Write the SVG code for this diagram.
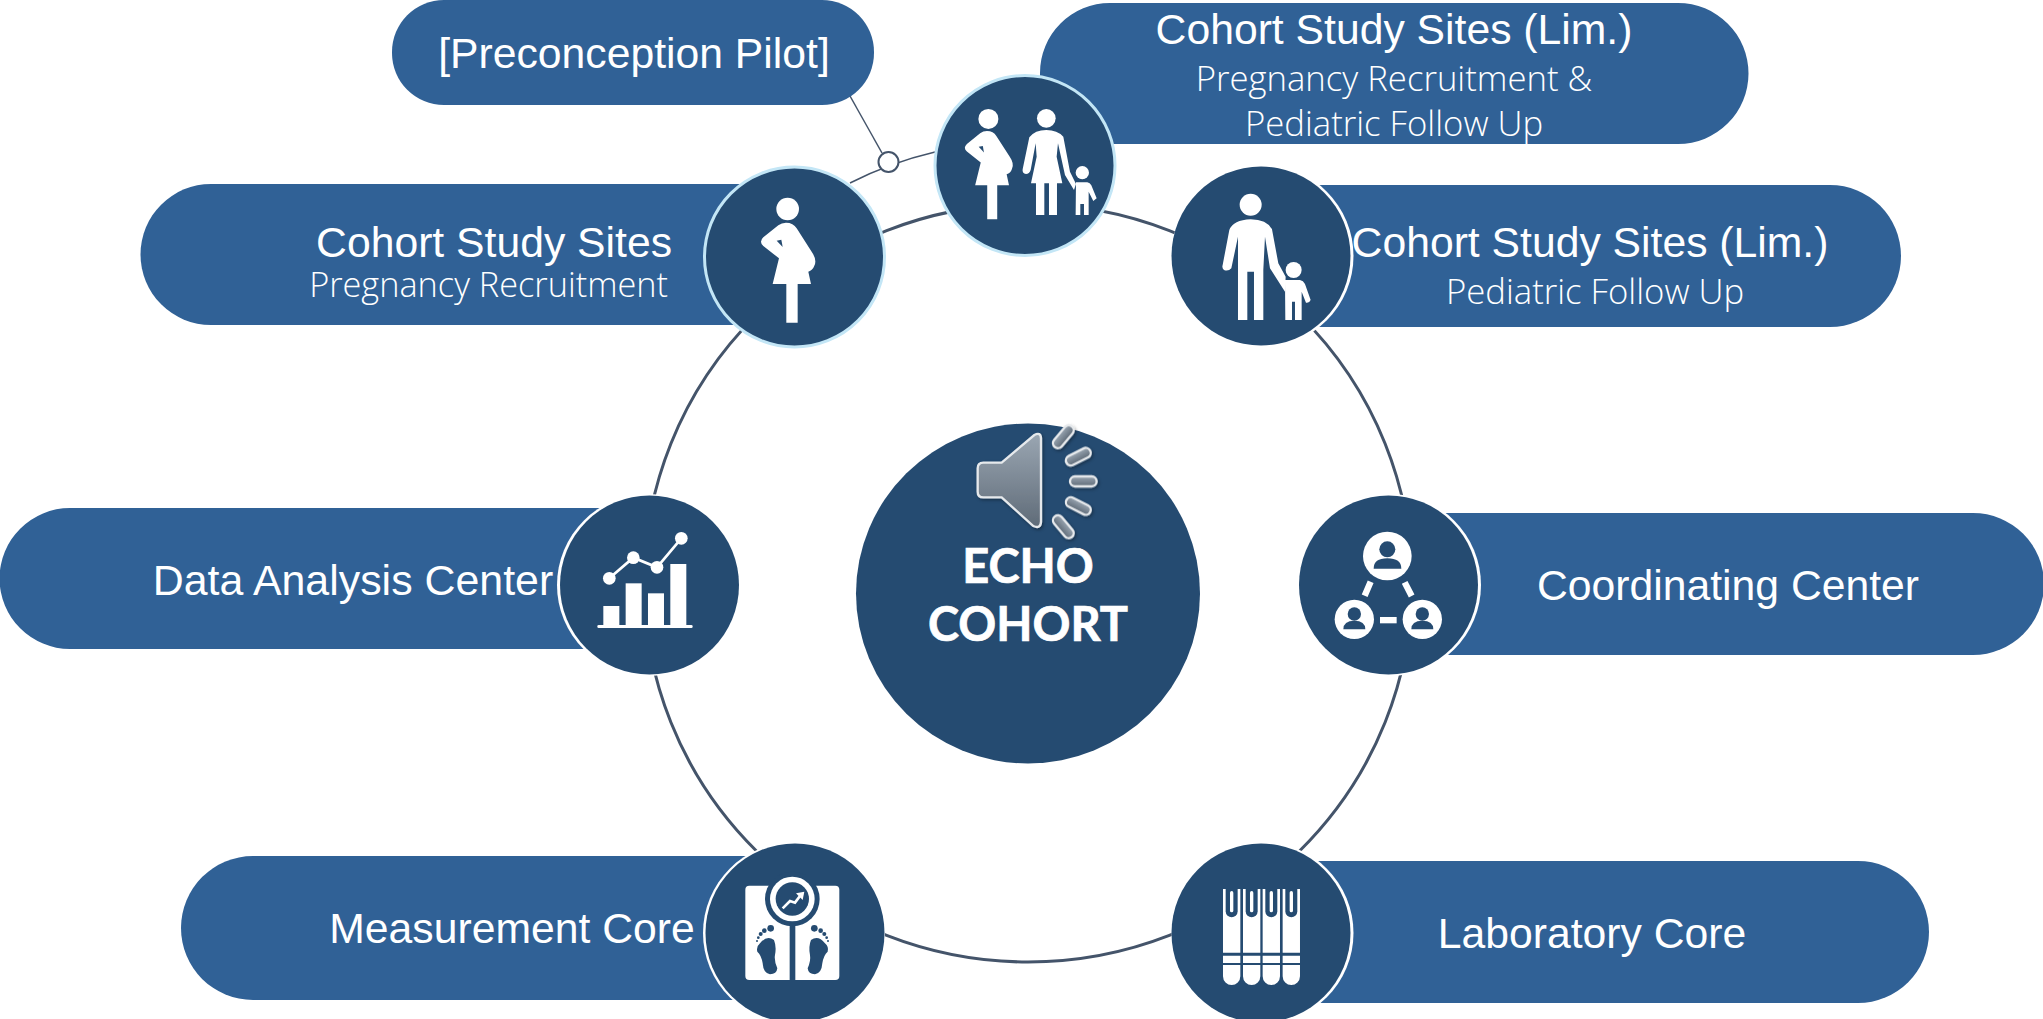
<svg xmlns="http://www.w3.org/2000/svg" xmlns:xlink="http://www.w3.org/1999/xlink" width="2043" height="1019" viewBox="0 0 2043 1019">
<style>
.pill{fill:#306196}
.halo{fill:#fff}
.disc{fill:#254b71}
.disc.lb{stroke:#c3e6f6;stroke-width:3}
.h{font-family:"Liberation Sans",Arial,sans-serif;font-size:42.700px;fill:#fff;text-anchor:middle}
.s{font-family:"Open Sans","Noto Sans",sans-serif;font-weight:300;font-size:34.700px;fill:#fff;text-anchor:middle}
.e{font-family:Lato,"Liberation Sans",sans-serif;font-weight:700;font-size:47px;fill:#fff;stroke:#fff;stroke-width:.7px;text-anchor:middle}
.w{fill:#fff}
.d{fill:#254b71}
.ring{fill:none;stroke:#44546a;stroke-width:3}
.thin{fill:none;stroke:#44546a;stroke-width:1.5}
</style>
<defs>
<linearGradient id="sg" x1="0" y1="0" x2="0" y2="1"><stop offset="0" stop-color="#9aa6b2"/><stop offset="1" stop-color="#5f6b78"/></linearGradient>
<filter id="sh" x="-30%" y="-30%" width="170%" height="170%"><feDropShadow dx="4" dy="5" stdDeviation="4" flood-color="#000" flood-opacity=".35"/></filter>
<g id="preg">
<circle class="w" cx="323" cy="207" r="34"/>
<path class="w" d="M318 248Q340 248 350 265L395 335Q412 360 403 377Q398 391 385 395L393 432L353 432L353 548L319 548L319 432L278 432L297 355L250 318Q236 305 250 292L295 256Q305 248 318 248Z"/>
<path class="d" d="M290 302L304 299L308 321Z"/>
</g>
<g id="foot">
<circle class="d" cx="212" cy="265" r="10"/><circle class="d" cx="193" cy="272" r="7"/><circle class="d" cx="182" cy="282" r="6"/><circle class="d" cx="175" cy="293" r="4"/><circle class="d" cx="171" cy="303" r="3"/>
<path class="d" d="M180 310Q200 285 222 300Q230 320 225 345Q222 362 232 385Q230 403 210 403Q190 400 188 370Q184 345 172 335Q168 320 180 310Z"/>
</g>
<g id="tube">
<path class="w" d="M0 147H52V338H0ZM0 347H52V369H0ZM0 375H52V409A26 26 0 0 1 0 409Z"/>
<path class="d" d="M8 147H44V214A18 18 0 0 1 8 214Z"/>
<rect class="w" x="21" y="153" width="10" height="64" rx="5"/>
</g>
</defs>

<g id="connectors">
<ellipse class="ring" cx="1028" cy="583" rx="384" ry="379"/>
<path class="thin" d="M850 183A379 379 0 0 1 935 152"/>
<line class="thin" x1="850" y1="96" x2="882" y2="153"/>
<circle cx="888.500" cy="162" r="10" fill="#fff" stroke="#44546a" stroke-width="2"/>
</g>

<g id="node-preconception">
<rect class="pill" x="392" y="0" width="482" height="105" rx="52"/>
<text class="h" x="634" y="68">[Preconception Pilot]</text>
</g>

<g id="node-family">
<path class="pill" d="M1110 3H1678A70.500 70.500 0 0 1 1678 144H1040V73A70 70 0 0 1 1110 3Z"/>
<text class="h" x="1394" y="44">Cohort Study Sites (Lim.)</text>
<text class="s" x="1394" y="91">Pregnancy Recruitment &amp;</text>
<text class="s" x="1394" y="136">Pediatric Follow Up</text>
<circle class="disc lb" cx="1025" cy="165.500" r="90"/>
<g transform="translate(900 0) scale(.3333)">
<use xlink:href="#preg" href="#preg" transform="translate(-20 174) scale(.883)"/>
<circle class="w" cx="439" cy="355" r="28"/>
<path class="w" d="M439 390Q472 390 490 410L510 515L528 552L522 570L495 525L474 430L470 470L487 550H471V645H447V550H433V645H408V550H393L410 470L407 430L392 510Q388 522 378 522Q366 520 368 508L388 412Q405 390 439 390Z"/>
<circle class="w" cx="547" cy="518" r="20"/>
<path class="w" d="M528 547H562Q570 548 574 556L590 595L580 603L566 575V645H552V612H541V645H527Z"/>
</g>
</g>

<g id="node-pregnancy">
<path class="pill" d="M211 184H794V325H211A70 70 0 0 1 211 184Z"/>
<text class="h" x="672" y="257" style="text-anchor:end">Cohort Study Sites</text>
<text class="s" x="668" y="297" style="text-anchor:end;font-size:34.300px">Pregnancy Recruitment</text>
<circle class="disc lb" cx="794.500" cy="257" r="90"/>
<g transform="translate(680 140) scale(.3333)"><use xlink:href="#preg" href="#preg"/></g>
</g>

<g id="node-pediatric">
<path class="pill" d="M1262 185H1830A71 71 0 0 1 1830 327H1262Z"/>
<circle class="halo" cx="1262.500" cy="256" r="91"/>
<circle class="disc" cx="1261" cy="256" r="89.500"/>
<text class="h" x="1590" y="257">Cohort Study Sites (Lim.)</text>
<text class="s" x="1595" y="304">Pediatric Follow Up</text>
<g transform="translate(1150 160) scale(.3333)">
<circle class="w" cx="302" cy="134" r="33"/>
<path class="w" d="M302 178Q350 178 366 208L385 310L407 350L405 395L360 325L345 230L340 330V480H312V335H292V480H264V230L244 325Q235 335 222 330Q215 325 218 315L238 210Q250 180 302 178Z"/>
<circle class="w" cx="431" cy="330" r="24"/>
<path class="w" d="M405 360H450Q460 362 465 372L482 420Q478 430 468 428L455 395V480H435V425H426V480H406Z"/>
</g>
</g>

<g id="node-analysis">
<path class="pill" d="M70 508H648V649H70A70 70 0 0 1 70 508Z"/>
<text class="h" x="353" y="595" style="font-size:42.900px">Data Analysis Center</text>
<circle class="halo" cx="648" cy="585" r="91"/>
<circle class="disc" cx="649.500" cy="585" r="89.500"/>
<g transform="translate(550 490) scale(.3333)">
<rect class="w" x="160" y="348" width="48" height="60"/><rect class="w" x="227" y="280" width="48" height="128"/><rect class="w" x="294" y="310" width="48" height="98"/><rect class="w" x="361" y="222" width="48" height="186"/>
<rect class="w" x="142" y="405" width="286" height="9" rx="4"/>
<polyline points="178,265 250,203 321,232 394,145" fill="none" stroke="#fff" stroke-width="8"/>
<circle class="w" cx="178" cy="265" r="19"/><circle class="w" cx="250" cy="203" r="19"/><circle class="w" cx="321" cy="232" r="19"/><circle class="w" cx="394" cy="145" r="19"/>
</g>
</g>

<g id="node-coordinating">
<path class="pill" d="M1390 513H1973A71 71 0 0 1 1973 655H1390Z"/>
<text class="h" x="1728" y="600">Coordinating Center</text>
<circle class="halo" cx="1390" cy="585" r="91"/>
<circle class="disc" cx="1388.500" cy="585" r="89.500"/>
<g transform="translate(1290 490) scale(.3333)">
<circle class="w" cx="292" cy="198" r="73"/><circle class="d" cx="292" cy="178" r="24"/><path class="d" d="M251 236Q251 205 292 205Q334 205 334 236Z"/>
<circle class="w" cx="193" cy="388" r="59"/><circle class="d" cx="193" cy="372" r="20"/><path class="d" d="M160 418Q160 392 193 392Q226 392 226 418Z"/>
<circle class="w" cx="397" cy="388" r="59"/><circle class="d" cx="397" cy="372" r="20"/><path class="d" d="M364 418Q364 392 397 392Q430 392 430 418Z"/>
<path d="M242 275L224 317M344 277L365 318" stroke="#fff" stroke-width="19" fill="none"/>
<rect class="w" x="270" y="381" width="50" height="19"/>
</g>
</g>

<g id="node-measurement">
<path class="pill" d="M253 856H794V1000H253A72 72 0 0 1 253 856Z"/>
<text class="h" x="512" y="943">Measurement Core</text>
<circle class="halo" cx="794" cy="933" r="91"/>
<circle class="disc" cx="795" cy="933" r="89.500"/>
<g transform="translate(700 840) scale(.3333)">
<rect class="w" x="136" y="137" width="282" height="283" rx="12"/>
<circle class="d" cx="277" cy="177" r="82"/>
<circle class="w" cx="277" cy="177" r="67"/>
<circle class="d" cx="277" cy="177" r="50"/>
<rect class="d" x="269" y="250" width="17" height="170"/>
<use xlink:href="#foot" href="#foot"/>
<use xlink:href="#foot" href="#foot" transform="translate(555 0) scale(-1 1)"/>
<polyline points="248,205 270,183 285,188 300,168" fill="none" stroke="#fff" stroke-width="8"/>
<path class="w" d="M288 160L313 155L308 180Z"/>
</g>
</g>

<g id="node-laboratory">
<path class="pill" d="M1262 861H1858A71 71 0 0 1 1858 1003H1262Z"/>
<text class="h" x="1592" y="948">Laboratory Core</text>
<circle class="halo" cx="1262.500" cy="933" r="91"/>
<circle class="disc" cx="1261" cy="933" r="89.500"/>
<g transform="translate(1165 840) scale(.3333)">
<use xlink:href="#tube" href="#tube" x="174"/><use xlink:href="#tube" href="#tube" x="234"/><use xlink:href="#tube" href="#tube" x="293"/><use xlink:href="#tube" href="#tube" x="353"/>
</g>
</g>

<g id="node-center">
<ellipse class="d" cx="1028" cy="593.500" rx="172" ry="170"/>
<text class="e" x="1028" y="583">ECHO</text>
<text class="e" x="1028" y="641">COHORT</text>
<g transform="translate(850 410) scale(.3333)" filter="url(#sh)" fill="url(#sg)" stroke="#e6e9ec" stroke-width="7">
<path d="M400 158H455L553 75Q572 65 573 85V335Q572 358 550 348L455 262H400Q383 262 383 245V175Q383 158 400 158Z"/>
<rect x="600" y="65" width="80" height="30" rx="15" transform="rotate(-50 640 80)"/>
<rect x="645" y="125" width="80" height="30" rx="15" transform="rotate(-27 685 140)"/>
<rect x="660" y="199" width="80" height="30" rx="15"/>
<rect x="645" y="273" width="80" height="30" rx="15" transform="rotate(27 685 288)"/>
<rect x="600" y="335" width="80" height="30" rx="15" transform="rotate(50 640 350)"/>
</g>
</g>
</svg>
